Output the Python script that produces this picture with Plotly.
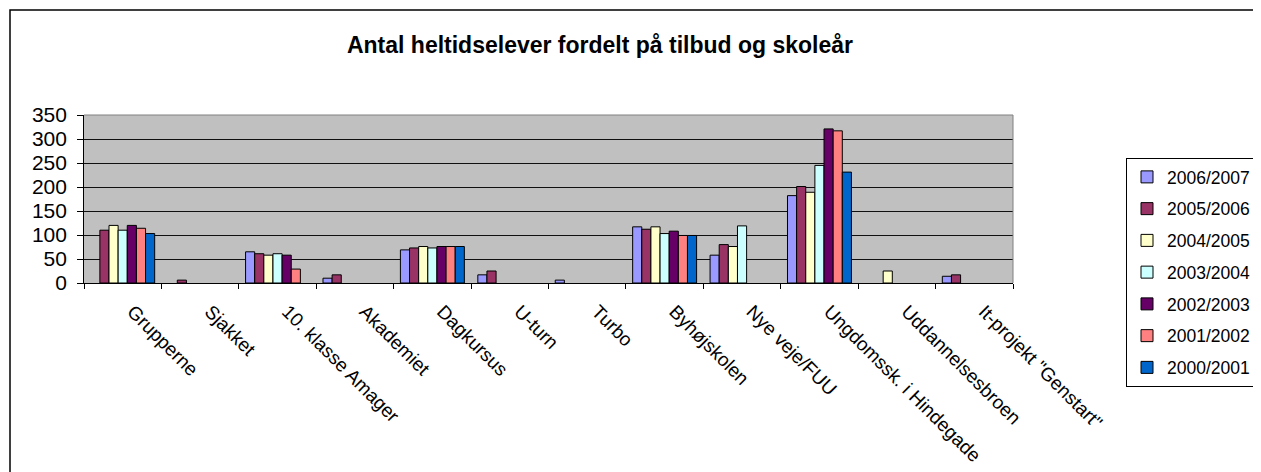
import plotly.graph_objects as go

categories = ["Grupperne", "Sjakket", "10. klasse Amager", "Akademiet", "Dagkursus", "U-turn",
              "Turbo", "Byhøjskolen", "Nye veje/FUU", "Ungdomssk. i Hindegade",
              "Uddannelsesbroen", "It-projekt \"Genstart\""]

years = ["2006/2007", "2005/2006", "2004/2005", "2003/2004", "2002/2003", "2001/2002", "2000/2001"]

v_2006_2007 = [None, None, 65, 10, 69, 17, 6, 117, 58, 182, None, 14]
v_2005_2006 = [110, 6, 61, 17, 73, 25, None, 112, 80, 201, None, 17]
v_2004_2005 = [120, None, 58, None, 76, None, None, 117, 76, 189, 25, None]
v_2003_2004 = [110, None, 61, None, 73, None, None, 103, 119, 245, None, None]
v_2002_2003 = [120, None, 58, None, 76, None, None, 108, None, 321, None, None]
v_2001_2002 = [114, None, 29, None, 76, None, None, 99, None, 317, None, None]
v_2000_2001 = [103, None, None, None, 76, None, None, 99, None, 231, None, None]

series = [v_2006_2007, v_2005_2006, v_2004_2005, v_2003_2004, v_2002_2003, v_2001_2002, v_2000_2001]
colors = ["#9999FF", "#993366", "#FFFFCC", "#CCFFFF", "#660066", "#FF8080", "#0066CC"]

FONT = "Liberation Sans, Arial, sans-serif"

fig = go.Figure()
for i, (name, vals, col) in enumerate(zip(years, series, colors)):
    fig.add_trace(go.Bar(
        x=categories, y=vals, name=name, legendgroup=name,
        marker=dict(color=col, line=dict(color="#000000", width=1)),
    ))

# the page has an 8px body margin; figure coords = page coords - 8
W, H = 1253, 464
L, R, T, B = 76, 1005, 107, 275

fig.update_layout(
    width=W, height=H,
    margin=dict(l=L, r=W - R, t=T, b=H - B, pad=0, autoexpand=False),
    paper_bgcolor="white",
    plot_bgcolor="#C0C0C0",
    barmode="group",
    bargap=0.174,
    bargroupgap=0,
    font=dict(family=FONT, size=20, color="black"),
    title=dict(
        text="<b>Antal heltidselever fordelt på tilbud og skoleår</b>",
        font=dict(family=FONT, size=23, color="black"),
        xref="container", x=592 / W, xanchor="center",
        yref="container", y=1 - 37 / H, yanchor="middle",
    ),
    showlegend=True,
    legend=dict(
        xref="container", yref="container",
        x=1118 / W, xanchor="left",
        y=1 - 150 / H, yanchor="top",
        bgcolor="white", bordercolor="#000000", borderwidth=1,
        font=dict(family=FONT, size=17.5, color="black"),
        tracegroupgap=6,
        traceorder="grouped",
        maxheight=400,
    ),
    xaxis=dict(
        type="category",
        automargin=False,
        tickangle=45,
        tickson="boundaries",
        ticks="outside", ticklen=5, tickcolor="black", tickwidth=1,
        showline=True, linecolor="black", linewidth=1,
        showgrid=False,
        tickfont=dict(family=FONT, size=19, color="black"),
        ticklabelshift=10,
        ticklabelstandoff=9,
    ),
    yaxis=dict(
        automargin=False,
        range=[0, 350],
        tickmode="linear", tick0=0, dtick=50,
        ticks="outside", ticklen=6, tickcolor="black", tickwidth=1,
        showline=True, linecolor="black", linewidth=1,
        showgrid=True, gridcolor="#101010", gridwidth=1,
        zeroline=False,
        tickfont=dict(family=FONT, size=21, color="black"),
        ticksuffix="\u00a0",
    ),
    shapes=[
        dict(type="line", xref="paper", yref="paper", x0=0, x1=1, y0=1, y1=1,
             line=dict(color="#808080", width=1), layer="above"),
        dict(type="line", xref="paper", yref="paper", x0=1, x1=1, y0=0, y1=1,
             line=dict(color="#808080", width=1), layer="above"),
        dict(type="rect", xref="paper", yref="paper",
             x0=(2 - L) / (R - L), x1=2.0,
             y0=-3.0, y1=1 + (T - 2) / (B - T),
             line=dict(color="#000000", width=1.5), fillcolor="rgba(0,0,0,0)", layer="below"),
    ],
)

fig.write_html("out.html")
